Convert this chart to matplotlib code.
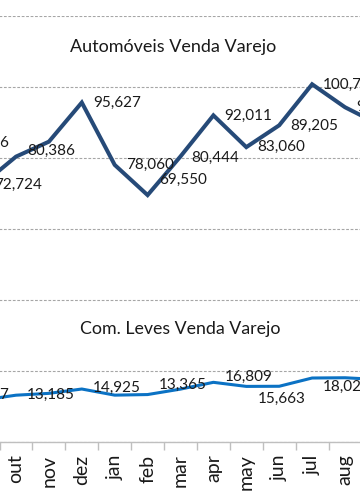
import matplotlib
matplotlib.use("Agg")
import matplotlib.pyplot as plt
import numpy as np

plt.rcParams['font.family'] = ['Lato', 'DejaVu Sans']

# months (the chart is a crop: ago and set are only partly visible)
months = ["ago", "set", "out", "nov", "dez", "jan", "feb", "mar", "apr",
          "may", "jun", "jul", "aug", "set"]

autos = [84316, 72724, 80386, 84600, 95627, 78060, 69550, 80444, 92011,
         83060, 89205, 100772, 94300, 89600]
leves = [13247, 11850, 13185, 13700, 14925, 13200, 13365, 14900, 16809,
         15663, 15700, 18025, 18100, 17600]

# which points carry a data label
autos_lab = [True, True, True, False, True, True, True, True, True, True, True, True, True, False]
leves_lab = [True, False, True, False, True, False, True, False, True, True, False, True, False, False]

# label vertical nudges in px (+ = down)
autos_dy = [0, 1, -6, 0, 0, 0, -15, 1, 1, 0, 1, 1, 0, 0]
leves_dy = [0, 0, 0, 0, -1, 0, -10, 0, -5, 12, 0, 9, 0, 0]

W, H = 360, 504
fig = plt.figure(figsize=(W / 100, H / 100), dpi=100)
step = 32.9
left_px = 16 - 2.5 * step
ax = fig.add_axes([left_px / W, 62 / H, len(months) * step / W, 426 / H])

x = np.arange(len(months))
ax.plot(x, autos, color="#264a78", lw=2.9, solid_joinstyle="miter", zorder=3)
ax.plot(x, leves, color="#0b72c4", lw=2.2, zorder=3)

ax.set_xlim(-0.5, len(months) - 0.5)
ax.set_ylim(0, 120000)
ax.set_yticks(np.arange(0, 120001, 20000))
ax.yaxis.grid(True, color="#a6a6a6", linestyle=(0, (2.5, 1.5)), lw=0.8)
ax.set_axisbelow(True)
ax.tick_params(axis="y", left=False, labelleft=False)

for s in ["top", "right", "left"]:
    ax.spines[s].set_visible(False)
ax.spines["bottom"].set_color("#bfbfbf")
ax.spines["bottom"].set_linewidth(1.0)

ax.set_xticks(x)
ax.set_xticklabels(months, rotation=90, fontsize=14, color="#1a1a1a")
ax.set_xticks(np.arange(-0.5, len(months), 1), minor=True)
ax.tick_params(axis="x", which="major", length=0, pad=9)
ax.tick_params(axis="x", which="minor", length=6, color="#bfbfbf", width=1.0)

for i, v in enumerate(autos):
    if autos_lab[i]:
        ax.annotate(f"{v:,}", (i, v), xytext=(8, -autos_dy[i] * 0.72),
                    textcoords="offset points", ha="left", va="center",
                    fontsize=11, color="#1a1a1a", zorder=4)
for i, v in enumerate(leves):
    if leves_lab[i]:
        ax.annotate(f"{v:,}", (i, v), xytext=(8, -leves_dy[i] * 0.72),
                    textcoords="offset points", ha="left", va="center",
                    fontsize=11, color="#1a1a1a", zorder=4)

fig.text(173 / W, 1 - 47 / H, "Automóveis Venda Varejo", ha="center", va="center",
         fontsize=13, color="#1a1a1a")
fig.text(180 / W, 1 - 329 / H, "Com. Leves Venda Varejo", ha="center", va="center",
         fontsize=12.8, color="#1a1a1a")

fig.savefig("out.png", dpi=100)
